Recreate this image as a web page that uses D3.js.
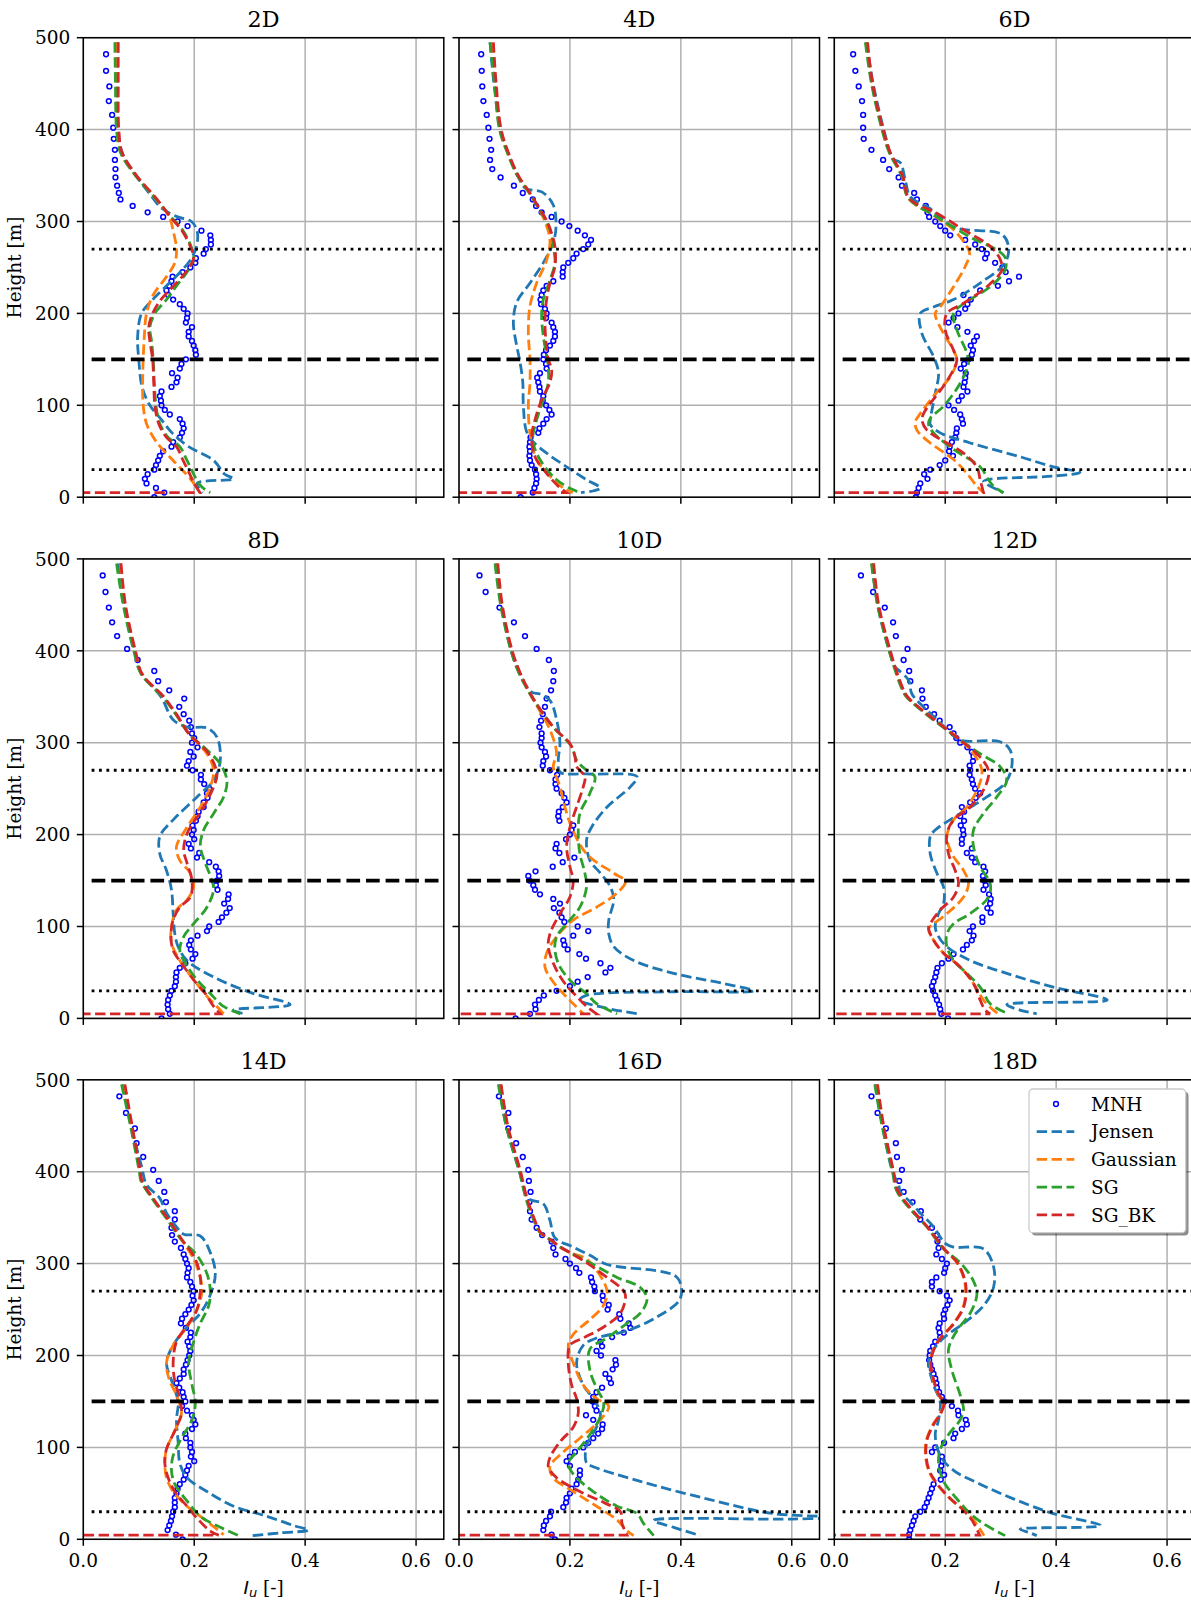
<!DOCTYPE html>
<html><head><meta charset="utf-8">
<script src="https://cdn.jsdelivr.net/npm/d3@7"></script>
<style>body{margin:0;background:#fff} svg{display:block} text{font-family:"DejaVu Serif",serif;}</style>
</head><body><svg id="c" width="1191" height="1602"></svg>
<script>
// ---------------- DATA ----------------
const panelTitles = ["2D","4D","6D","8D","10D","12D","14D","16D","18D"];
const xTicks = [0, 0.2, 0.4, 0.6];
const xTickLabels = ["0.0","0.2","0.4","0.6"];
const yTicks = [0,100,200,300,400,500];
const refDotted = [270, 30];
const refDashed = [150];
const seriesNames = ["MNH","Jensen","Gaussian","SG","SG_BK"];
const seriesColors = ["#0000ff","#1f77b4","#ff7f0e","#2ca02c","#d62728"];

// MNH sample heights [m]
const mnhHeights = [0,5,10,15,20,25,30,35,40,45,50,55,60,65,70,75,80,85,90,95,100,105,110,115,120,125,130,135,140,145,150,155,160,165,170,175,180,185,190,195,200,205,210,215,220,225,230,235,240,245,250,255,260,265,270,275,280,285,290,295,300,305,310,317,324,331,339,348,357,367,378,390,402,416,431,447,464,482];

const mnh2D = [.128,.146,.131,.114,.111,.116,.128,.131,.135,.138, .144,.159,.162,.174,.178,.181,.179,.174,.156,.147, .141,.140,.138,.141,.159,.168,.170,.160,.174,.177, .185,.203,.202,.199,.196,.190,.190,.196,.185,.187, .188,.181,.174,.162,.153,.150,.155,.159,.161,.179, .193,.202,.203,.217,.221,.230,.230,.229,.213,.188, .170,.144,.116, .089,.067,.064,.061,.058,.058,.057,.057,.055,.054,.052,.046,.047,.041,.041];
const mnh4D = [.111,.133,.136,.139,.140,.139,.137,.131,.128,.127, .128,.127,.128,.129,.143,.145,.152,.158,.167,.163, .157,.151,.152,.146,.145,.143,.141,.146,.158,.157, .152,.153,.157,.164,.170,.173,.173,.170,.167,.157, .158,.155,.148,.147,.149,.152,.158,.170,.187,.187, .188,.197,.206,.212,.224,.233,.238,.227,.214,.199, .185,.167,.149, .139,.133,.115,.099,.075,.060,.056,.058,.055,.053,.050,.044,.042,.041,.040];
const mnh6D = [.147,.149,.152,.155,.168,.162,.173,.190,.200,.214, .207,.208,.212,.218,.220,.221,.232,.230,.227,.216, .206,.224,.230,.240,.233,.235,.236,.237,.228,.234, .242,.248,.250,.246,.252,.257,.240,.222,.206,.215, .224,.236,.240,.246,.233,.263,.295,.315,.333,.309, .303,.290,.272,.275,.266,.254,.236,.209,.200,.191, .182,.171,.168, .165,.149,.144,.122,.116,.099,.088,.067,.053,.052,.052,.050,.044,.038,.034];
const mnh8D = [.141,.156,.153,.152,.153,.156,.159,.165,.167,.167, .168,.174,.184,.197,.202,.194,.191,.194,.206,.223, .227,.244,.250,.258,.264,.254,.261,.262,.242,.239, .241,.245,.244,.239,.227,.205,.209,.194,.190,.200, .196,.199,.197,.203,.206,.208,.217,.217,.224,.223, .227,.218,.212,.212,.197,.187,.190,.199,.193,.206, .196,.200,.196, .194,.191,.181,.173,.182,.155,.135,.128,.098,.079,.061,.052,.046,.040,.035];
const mnh10D = [.102,.128,.138,.137,.144,.153,.176,.200,.214,.232, .264,.273,.255,.229,.217,.196,.190,.188,.206,.233, .214,.190,.185,.181,.171,.182,.170,.146,.137,.134, .127,.125,.138,.169,.187,.208,.181,.174,.176,.193, .200,.203,.206,.181,.179,.180,.187,.194,.190,.185, .176,.174,.174,.177,.164,.151,.152,.157,.155,.149, .147,.149,.149, .145,.148,.151,.155,.158,.166,.170,.171,.162,.140,.119,.099,.073,.048,.037];
const mnh12D = [.205,.193,.191,.189,.185,.182,.178,.176,.179,.182, .184,.186,.194,.206,.215,.232,.239,.248,.251,.244, .250,.267,.267,.282,.276,.281,.282,.279,.269,.273, .270,.268,.272,.269,.254,.248,.239,.248,.230,.230, .233,.232,.228,.234,.227,.234,.230,.245,.255,.263, .254,.250,.248,.244,.245,.244,.250,.251,.248,.240, .227,.220,.215, .208,.190,.180,.165,.159,.158,.137,.135,.125,.132,.111,.106,.091,.070,.048];
const mnh14D = [.179,.167,.152,.155,.158,.160,.162,.165,.165,.165, .168,.170,.174,.181,.184,.187,.190,.200,.194,.196, .193,.193,.185,.184,.196,.202,.199,.196,.187,.178, .184,.181,.179,.173,.168,.174,.181,.181,.185,.188, .191,.193,.191,.188,.193,.194,.185,.176,.178,.184, .190,.195,.199,.197,.199,.196,.193,.187,.188,.190, .187,.184,.181, .176,.165,.160,.159,.165,.165,.149,.146,.136,.126,.108,.096,.093,.077,.065];
const mnh16D = [.173,.167,.152,.153,.157,.164,.166,.188,.193,.194, .200,.203,.212,.215,.218,.218,.200,.194,.200,.209, .224,.233,.242,.251,.258,.259,.242,.229,.248,.245, .241,.242,.248,.258,.274,.271,.264,.277,.283,.282, .256,.248,.258,.255,.276,.297,.309,.306,.291,.289, .268,.270,.260,.259,.245,.244,.240,.238,.217,.211, .200,.192,.174, .170,.167,.150,.140,.131,.128,.127,.129,.126,.125,.115,.103,.089,.089,.072];
const mnh18D = [.135,.135,.137,.140,.143,.146,.155,.163,.167,.170, .173,.176,.179,.192,.198,.191,.193,.195,.194,.176, .182,.198,.215,.218,.230,.239,.237,.224,.223,.212, .198,.194,.189,.185,.184,.182,.179,.176,.173,.171, .172,.173,.178,.182,.191,.190,.188,.190,.198,.197, .200,.204,.208,.203,.190,.176,.176,.184,.198,.200, .203,.194,.184, .188,.186,.185,.176,.155,.156,.141,.125,.117,.122,.113,.111,.093,.078,.067];

// Model profiles: [height m, Iu]
const jensen2D = [[495,.062],[450,.062],[400,.063],[375,.070],[350,.095],[330,.120],[315,.140],[305,.170],[300,.195],[290,.205],[275,.205],[260,.195],[245,.175],[230,.150],[215,.125],[200,.105],[175,.098],[150,.100],[120,.106],[100,.120],[85,.140],[70,.160],[55,.190],[40,.235],[25,.255],[20,.271],[15,.205],[5,.215]];
const gauss2D = [[495,.060],[450,.060],[400,.062],[375,.068],[350,.095],[325,.130],[305,.155],[290,.162],[270,.168],[255,.165],[240,.150],[220,.126],[200,.114],[175,.110],[150,.108],[125,.107],[100,.108],[80,.114],[60,.132],[40,.162],[20,.193],[10,.205],[5,.210]];
const sg2D = [[495,.057],[450,.058],[400,.060],[375,.067],[350,.094],[325,.130],[305,.158],[290,.180],[270,.196],[260,.199],[245,.187],[230,.168],[215,.150],[200,.129],[185,.120],[170,.123],[150,.126],[125,.128],[100,.131],[80,.138],[65,.153],[55,.174],[40,.187],[25,.199],[15,.208],[8,.220],[5,.229]];
const sgbk2D = [[495,.063],[450,.063],[400,.064],[375,.070],[350,.096],[325,.132],[305,.157],[290,.178],[270,.195],[260,.199],[245,.185],[230,.163],[215,.140],[200,.125],[185,.118],[170,.120],[150,.125],[125,.127],[100,.129],[80,.136],[65,.150],[55,.168],[40,.180],[25,.192],[15,.200],[5,.210],[5,0]];

const jensen4D = [[495,.056],[450,.063],[400,.075],[375,.088],[350,.106],[336,.120],[332,.150],[318,.170],[296,.175],[277,.170],[255,.152],[233,.128],[212,.104],[190,.098],[168,.103],[147,.110],[125,.115],[100,.116],[73,.121],[62,.131],[48,.158],[33,.194],[19,.230],[10,.255],[7,.243],[5,.220]];
const gauss4D = [[495,.058],[450,.065],[400,.074],[375,.088],[350,.106],[330,.128],[315,.143],[300,.155],[280,.164],[258,.158],[233,.140],[208,.128],[179,.125],[150,.128],[125,.128],[100,.125],[70,.128],[41,.140],[23,.164],[10,.188],[5,.205]];
const sg4D = [[495,.056],[450,.064],[400,.073],[375,.087],[350,.105],[330,.128],[315,.143],[300,.158],[285,.167],[273,.170],[255,.173],[236,.164],[215,.152],[197,.149],[171,.153],[147,.160],[125,.161],[106,.152],[84,.140],[62,.133],[41,.146],[19,.176],[8,.206],[5,.218]];
const sgbk4D = [[495,.062],[450,.067],[400,.076],[375,.089],[350,.107],[330,.129],[315,.144],[300,.159],[285,.168],[273,.173],[251,.173],[233,.164],[215,.158],[193,.155],[168,.157],[150,.161],[139,.167],[125,.164],[106,.149],[84,.137],[66,.131],[44,.137],[26,.158],[12,.179],[5,.194],[5,0]];

const jensen6D = [[495,.058],[450,.070],[396,.091],[368,.106],[364,.119],[345,.128],[327,.137],[314,.173],[294,.215],[286,.302],[273,.314],[255,.308],[233,.263],[215,.215],[207,.179],[200,.155],[178,.158],[153,.179],[135,.188],[113,.182],[84,.173],[79,.173],[70,.191],[59,.245],[44,.335],[33,.395],[27,.443],[23,.395],[19,.275],[17,.269],[5,.305]];
const gauss6D = [[495,.058],[450,.068],[400,.087],[375,.100],[350,.122],[325,.134],[309,.173],[291,.215],[273,.239],[265,.244],[251,.236],[229,.215],[207,.191],[200,.182],[178,.197],[160,.215],[149,.221],[131,.209],[110,.179],[91,.155],[82,.146],[73,.149],[59,.173],[41,.215],[26,.239],[12,.257],[5,.269]];
const sg6D = [[495,.056],[450,.067],[400,.086],[375,.099],[350,.121],[325,.134],[305,.185],[283,.245],[269,.293],[261,.308],[247,.308],[229,.281],[215,.245],[200,.215],[182,.221],[157,.239],[146,.242],[124,.227],[99,.197],[86,.173],[79,.170],[70,.179],[52,.215],[33,.263],[19,.278],[12,.287],[5,.305]];
const sgbk6D = [[495,.060],[450,.069],[400,.088],[375,.101],[350,.123],[325,.135],[309,.185],[291,.233],[273,.281],[259,.299],[247,.302],[229,.275],[211,.233],[200,.203],[182,.200],[160,.215],[149,.221],[139,.215],[121,.197],[102,.173],[91,.161],[84,.158],[73,.167],[59,.203],[48,.233],[33,.257],[19,.263],[5,.269],[5,0]];

const jensen8D = [[495,.064],[450,.073],[400,.092],[375,.105],[350,.140],[325,.162],[317,.187],[316,.223],[306,.241],[281,.247],[259,.235],[241,.205],[216,.162],[198,.138],[179,.138],[161,.150],[140,.159],[114,.162],[92,.165],[78,.171],[63,.187],[45,.235],[27,.307],[15,.373],[9,.271],[5,.289]];
const gauss8D = [[495,.067],[450,.075],[400,.093],[375,.105],[350,.144],[330,.168],[310,.190],[288,.223],[270,.235],[252,.229],[230,.211],[208,.187],[187,.168],[172,.174],[158,.193],[143,.199],[129,.187],[118,.168],[100,.159],[82,.159],[63,.174],[42,.199],[24,.223],[9,.247],[5,.253]];
const sg8D = [[495,.060],[450,.072],[400,.091],[375,.104],[350,.143],[330,.168],[310,.190],[292,.223],[277,.247],[259,.259],[241,.253],[223,.235],[205,.217],[187,.211],[169,.220],[150,.232],[140,.235],[121,.223],[103,.199],[89,.181],[74,.174],[60,.184],[42,.205],[27,.229],[13,.253],[5,.283]];
const sgbk8D = [[495,.068],[450,.076],[400,.094],[375,.106],[350,.145],[330,.169],[310,.190],[288,.226],[266,.241],[252,.235],[230,.217],[201,.187],[183,.181],[169,.187],[150,.196],[132,.193],[121,.174],[107,.162],[89,.158],[74,.162],[60,.177],[42,.199],[27,.220],[13,.235],[5,.247],[5,0]];

const jensen10D = [[495,.066],[450,.076],[400,.094],[375,.109],[355,.131],[353,.146],[346,.164],[325,.176],[299,.182],[281,.179],[268,.182],[266,.230],[263,.321],[252,.309],[230,.267],[208,.239],[194,.230],[172,.236],[158,.255],[143,.273],[129,.279],[107,.270],[92,.270],[78,.279],[63,.315],[49,.387],[38,.477],[30,.531],[29,.387],[25,.230],[20,.218],[11,.267],[5,.324]];
const gauss10D = [[495,.068],[450,.077],[400,.095],[375,.110],[350,.131],[314,.164],[288,.176],[274,.170],[252,.182],[230,.191],[208,.203],[179,.230],[158,.279],[149,.300],[136,.284],[121,.248],[107,.206],[89,.176],[71,.158],[56,.155],[42,.167],[27,.188],[16,.206],[5,.224]];
const sg10D = [[495,.065],[450,.075],[400,.094],[375,.109],[350,.131],[317,.170],[296,.203],[281,.212],[270,.230],[263,.245],[245,.236],[223,.218],[201,.215],[179,.218],[158,.227],[143,.230],[121,.218],[103,.194],[89,.176],[74,.173],[56,.182],[38,.206],[27,.230],[16,.248],[5,.285]];
const sgbk10D = [[495,.070],[450,.078],[400,.096],[375,.111],[350,.132],[317,.170],[299,.200],[285,.209],[274,.212],[263,.227],[252,.224],[230,.212],[208,.200],[187,.194],[165,.200],[150,.206],[132,.200],[114,.182],[92,.164],[78,.161],[56,.173],[38,.191],[24,.212],[13,.230],[5,.248],[5,0]];

const jensen12D = [[495,.068],[450,.078],[400,.099],[382,.110],[379,.116],[368,.134],[353,.140],[332,.173],[315,.203],[303,.227],[301,.299],[292,.317],[274,.320],[256,.308],[241,.275],[223,.227],[205,.182],[198,.173],[179,.173],[158,.185],[143,.197],[125,.197],[114,.188],[100,.182],[89,.188],[78,.203],[63,.245],[49,.311],[34,.395],[20,.492],[15,.311],[9,.335],[5,.365]];
const gauss12D = [[495,.070],[450,.079],[400,.100],[380,.110],[360,.122],[350,.131],[303,.227],[288,.251],[270,.266],[252,.260],[230,.239],[216,.215],[198,.203],[179,.212],[161,.233],[147,.242],[132,.233],[114,.203],[103,.179],[98,.170],[85,.179],[71,.197],[56,.227],[38,.251],[20,.269],[9,.287],[5,.296]];
const sg12D = [[495,.067],[450,.078],[400,.099],[380,.109],[360,.121],[350,.130],[303,.227],[288,.263],[274,.299],[259,.311],[241,.293],[223,.269],[205,.251],[187,.251],[165,.263],[147,.281],[132,.278],[114,.245],[103,.215],[92,.203],[78,.203],[63,.215],[49,.239],[34,.263],[16,.281],[5,.314]];
const sgbk12D = [[495,.071],[450,.080],[400,.101],[380,.111],[360,.123],[350,.132],[303,.227],[288,.257],[270,.278],[252,.272],[230,.245],[216,.215],[201,.203],[179,.206],[161,.218],[147,.224],[132,.215],[118,.191],[103,.173],[98,.170],[85,.179],[71,.197],[56,.227],[38,.251],[20,.263],[9,.272],[5,.281],[5,0]];

const jensen14D = [[495,.071],[450,.086],[406,.105],[386,.114],[371,.138],[355,.150],[340,.168],[332,.181],[330,.211],[312,.229],[289,.238],[266,.229],[246,.211],[231,.187],[211,.162],[192,.150],[168,.162],[149,.171],[130,.168],[106,.171],[83,.174],[67,.187],[52,.223],[36,.271],[25,.331],[15,.379],[10,.406],[7,.355],[4,.305]];
const gauss14D = [[495,.074],[450,.087],[400,.102],[390,.105],[370,.126],[350,.150],[326,.177],[305,.199],[285,.211],[270,.214],[250,.205],[231,.187],[211,.162],[192,.150],[172,.156],[157,.168],[137,.177],[122,.168],[98,.150],[83,.147],[67,.150],[52,.162],[36,.187],[25,.211],[11,.241],[5,.253]];
const sg14D = [[495,.069],[450,.085],[400,.101],[390,.104],[370,.125],[350,.149],[326,.177],[309,.205],[289,.223],[270,.229],[254,.226],[235,.211],[215,.199],[192,.190],[168,.196],[149,.202],[130,.196],[110,.177],[91,.162],[75,.159],[60,.165],[44,.184],[25,.211],[13,.247],[4,.280]];
const sgbk14D = [[495,.075],[450,.088],[400,.103],[390,.106],[370,.127],[350,.151],[326,.178],[305,.202],[285,.211],[270,.211],[250,.205],[235,.190],[215,.168],[192,.162],[172,.165],[153,.174],[137,.177],[122,.168],[98,.150],[83,.147],[67,.153],[52,.165],[36,.187],[21,.208],[9,.229],[4.5,.244],[4.5,0]];

const jensen16D = [[495,.072],[450,.085],[400,.109],[371,.125],[365,.152],[347,.164],[328,.173],[318,.206],[309,.236],[299,.267],[285,.393],[262,.399],[242,.357],[227,.303],[219,.248],[211,.224],[192,.212],[168,.224],[153,.242],[137,.255],[122,.248],[102,.230],[83,.230],[79,.242],[63,.327],[44,.447],[28,.567],[24,.700],[22,.600],[20.5,.351],[13,.387],[4,.435]];
const gauss16D = [[495,.075],[450,.087],[400,.110],[370,.122],[350,.134],[334,.146],[326,.164],[318,.182],[312,.200],[305,.230],[293,.248],[270,.267],[254,.260],[239,.236],[223,.206],[211,.197],[192,.206],[168,.224],[153,.248],[145,.270],[130,.255],[110,.218],[95,.188],[79,.164],[67,.170],[52,.206],[36,.248],[21,.285],[9,.303],[4,.315]];
const sg16D = [[495,.071],[450,.085],[400,.109],[370,.121],[350,.133],[334,.146],[326,.164],[318,.182],[312,.200],[299,.242],[285,.285],[274,.327],[262,.339],[246,.327],[235,.303],[219,.267],[207,.236],[184,.236],[161,.251],[149,.261],[133,.255],[114,.236],[95,.212],[83,.197],[71,.206],[52,.242],[36,.285],[28,.321],[17,.333],[4,.351]];
const sgbk16D = [[495,.076],[450,.088],[400,.111],[370,.123],[350,.135],[334,.147],[326,.165],[318,.183],[312,.200],[301,.230],[285,.267],[274,.291],[266,.300],[246,.291],[231,.261],[219,.224],[211,.200],[192,.197],[168,.203],[153,.212],[137,.215],[122,.206],[106,.182],[89,.164],[79,.161],[67,.176],[52,.218],[40,.261],[30,.291],[17,.294],[4.5,.303],[4.5,0]];

const jensen18D = [[495,.074],[450,.087],[400,.105],[386,.116],[378,.119],[367,.137],[355,.155],[340,.179],[322,.200],[318,.215],[316,.269],[297,.287],[274,.287],[254,.269],[235,.233],[219,.197],[204,.176],[192,.170],[168,.179],[149,.191],[130,.188],[114,.182],[91,.191],[75,.215],[60,.263],[44,.323],[28,.395],[15,.480],[11,.335],[7,.353],[4,.365]];
const gauss18D = [[495,.077],[450,.088],[400,.106],[380,.113],[360,.137],[340,.167],[316,.197],[301,.221],[277,.236],[254,.233],[235,.215],[219,.191],[207,.179],[192,.173],[172,.179],[157,.188],[149,.197],[137,.191],[126,.179],[110,.167],[95,.164],[75,.170],[60,.185],[44,.209],[32,.233],[21,.251],[4,.270]];
const sg18D = [[495,.073],[450,.086],[400,.105],[380,.112],[360,.136],[340,.167],[316,.197],[301,.227],[281,.251],[266,.257],[246,.245],[227,.221],[207,.206],[184,.212],[157,.227],[141,.233],[130,.227],[114,.206],[98,.191],[83,.188],[63,.197],[44,.221],[28,.245],[17,.269],[4,.308]];
const sgbk18D = [[495,.078],[450,.089],[400,.107],[380,.114],[360,.138],[340,.168],[316,.198],[301,.222],[277,.237],[254,.234],[235,.216],[219,.192],[207,.180],[192,.174],[172,.180],[157,.189],[149,.198],[137,.192],[126,.180],[110,.168],[95,.165],[75,.171],[60,.186],[44,.210],[32,.232],[21,.248],[4.5,.262],[4.5,0]];

// ---------------- ASSEMBLY ----------------
const mnhAll = [mnh2D,mnh4D,mnh6D,mnh8D,mnh10D,mnh12D,mnh14D,mnh16D,mnh18D];
const modelsAll = [
  [jensen2D,gauss2D,sg2D,sgbk2D],[jensen4D,gauss4D,sg4D,sgbk4D],[jensen6D,gauss6D,sg6D,sgbk6D],
  [jensen8D,gauss8D,sg8D,sgbk8D],[jensen10D,gauss10D,sg10D,sgbk10D],[jensen12D,gauss12D,sg12D,sgbk12D],
  [jensen14D,gauss14D,sg14D,sgbk14D],[jensen16D,gauss16D,sg16D,sgbk16D],[jensen18D,gauss18D,sg18D,sgbk18D]];

// ---------------- LAYOUT ----------------
const colLeft = [83.3, 459, 834.3];
const rowTop = [37.7, 558.9, 1079.8];
const panelW = 360.5, panelH = 459.5;
const FS = 18.5;

const svg = d3.select("#c");
svg.append("rect").attr("width",1191).attr("height",1602).attr("fill","#fff");

panelTitles.forEach((title, i) => {
  const col = i % 3, row = Math.floor(i / 3);
  const L = colLeft[col], T = rowTop[row];
  const x = d3.scaleLinear().domain([0, 0.65]).range([L, L + panelW]);
  const y = d3.scaleLinear().domain([0, 500]).range([T + panelH, T]);
  const g = svg.append("g");
  const clipId = "clip" + i;
  svg.append("clipPath").attr("id", clipId).append("rect")
    .attr("x", L).attr("y", T).attr("width", panelW).attr("height", panelH);

  // grid
  const grid = g.append("g").attr("stroke", "#b0b0b0").attr("stroke-width", 1.5);
  xTicks.forEach(t => grid.append("line").attr("x1", x(t)).attr("x2", x(t)).attr("y1", T).attr("y2", T + panelH));
  yTicks.forEach(t => grid.append("line").attr("x1", L).attr("x2", L + panelW).attr("y1", y(t)).attr("y2", y(t)));

  const plot = g.append("g").attr("clip-path", `url(#${clipId})`);

  // MNH markers
  plot.append("g").selectAll("circle").data(mnhAll[i].map((v, k) => [mnhHeights[k], v]))
    .join("circle").attr("cx", d => x(d[1])).attr("cy", d => y(d[0])).attr("r", 2.4)
    .attr("fill", "none").attr("stroke", seriesColors[0]).attr("stroke-width", 1.5);

  // model lines (smooth; a trailing flat segment at the same height is drawn straight)
  const line = d3.line().x(d => x(d[1])).y(d => y(d[0])).curve(d3.curveCatmullRom.alpha(0.5));
  modelsAll[i].forEach((data, m) => {
    const n = data.length;
    let d;
    if (n > 2 && data[n - 1][0] === data[n - 2][0]) {
      d = line(data.slice(0, n - 1)) + `L${x(data[n - 1][1])},${y(data[n - 1][0])}`;
    } else {
      d = line(data);
    }
    plot.append("path").attr("d", d).attr("fill", "none")
      .attr("stroke", seriesColors[m + 1]).attr("stroke-width", 2.8)
      .attr("stroke-dasharray", "10.4,4.5");
  });

  // reference lines
  refDotted.forEach(h => plot.append("line").attr("x1", x(0.015)).attr("x2", x(0.647))
    .attr("y1", y(h)).attr("y2", y(h)).attr("stroke", "#000").attr("stroke-width", 2.8)
    .attr("stroke-dasharray", "2.8,4.6"));
  refDashed.forEach(h => plot.append("line").attr("x1", x(0.015)).attr("x2", x(0.647))
    .attr("y1", y(h)).attr("y2", y(h)).attr("stroke", "#000").attr("stroke-width", 3.7)
    .attr("stroke-dasharray", "13.7,5.9"));

  // spines
  g.append("rect").attr("x", L).attr("y", T).attr("width", panelW).attr("height", panelH)
    .attr("fill", "none").attr("stroke", "#000").attr("stroke-width", 1.5);

  // y ticks
  yTicks.forEach(t => {
    g.append("line").attr("x1", L - 6.5).attr("x2", L).attr("y1", y(t)).attr("y2", y(t))
      .attr("stroke", "#000").attr("stroke-width", 1.5);
    if (col === 0) g.append("text").attr("x", L - 13).attr("y", y(t) + 6.7)
      .attr("text-anchor", "end").attr("font-size", FS).text(t);
  });
  // x ticks
  xTicks.forEach((t, k) => {
    g.append("line").attr("x1", x(t)).attr("x2", x(t)).attr("y1", T + panelH).attr("y2", T + panelH + 6.5)
      .attr("stroke", "#000").attr("stroke-width", 1.5);
    if (row === 2) g.append("text").attr("x", x(t)).attr("y", T + panelH + 27.5)
      .attr("text-anchor", "middle").attr("font-size", FS).text(xTickLabels[k]);
  });

  // title
  g.append("text").attr("x", L + panelW / 2).attr("y", T - 11).attr("text-anchor", "middle")
    .attr("font-size", 22.2).text(title);

  // y label
  if (col === 0) {
    g.append("text").attr("transform", `translate(21,${T + panelH / 2}) rotate(-90)`)
      .attr("text-anchor", "middle").attr("font-size", FS).text("Height [m]");
  }
  // x label
  if (row === 2) {
    const t = g.append("text").attr("x", L + panelW / 2).attr("y", T + panelH + 54.5)
      .attr("text-anchor", "middle").attr("font-size", FS);
    t.append("tspan").attr("font-family", "DejaVu Sans").attr("font-style", "italic").text("I");
    t.append("tspan").attr("font-family", "DejaVu Sans").attr("font-style", "italic")
      .attr("font-size", FS * 0.7).attr("dy", 3.5).text("u");
    t.append("tspan").attr("dy", -3.5).text(" [-]");
  }

  // legend in last panel
  if (i === 8) {
    const lx = 1029, ly = 1089, lw = 156.7, lh = 143.7;
    const lg = svg.append("g");
    lg.append("rect").attr("x", lx + 2.8).attr("y", ly + 2.8).attr("width", lw).attr("height", lh)
      .attr("rx", 4).attr("fill", "rgba(0,0,0,0.45)");
    lg.append("rect").attr("x", lx).attr("y", ly).attr("width", lw).attr("height", lh)
      .attr("rx", 4).attr("fill", "#fff").attr("stroke", "#cccccc").attr("stroke-width", 1.3);
    seriesNames.forEach((name, k) => {
      const cy = 1104 + k * 27.7;
      if (k === 0) {
        lg.append("circle").attr("cx", 1056).attr("cy", cy).attr("r", 2.4).attr("fill", "none")
          .attr("stroke", seriesColors[0]).attr("stroke-width", 1.5);
      } else {
        lg.append("line").attr("x1", 1036.7).attr("x2", 1074.3).attr("y1", cy).attr("y2", cy)
          .attr("stroke", seriesColors[k]).attr("stroke-width", 2.8).attr("stroke-dasharray", "10.4,4.5");
      }
      lg.append("text").attr("x", 1091).attr("y", cy + 6.7).attr("font-size", FS).text(name);
    });
  }
});
</script></body></html>
